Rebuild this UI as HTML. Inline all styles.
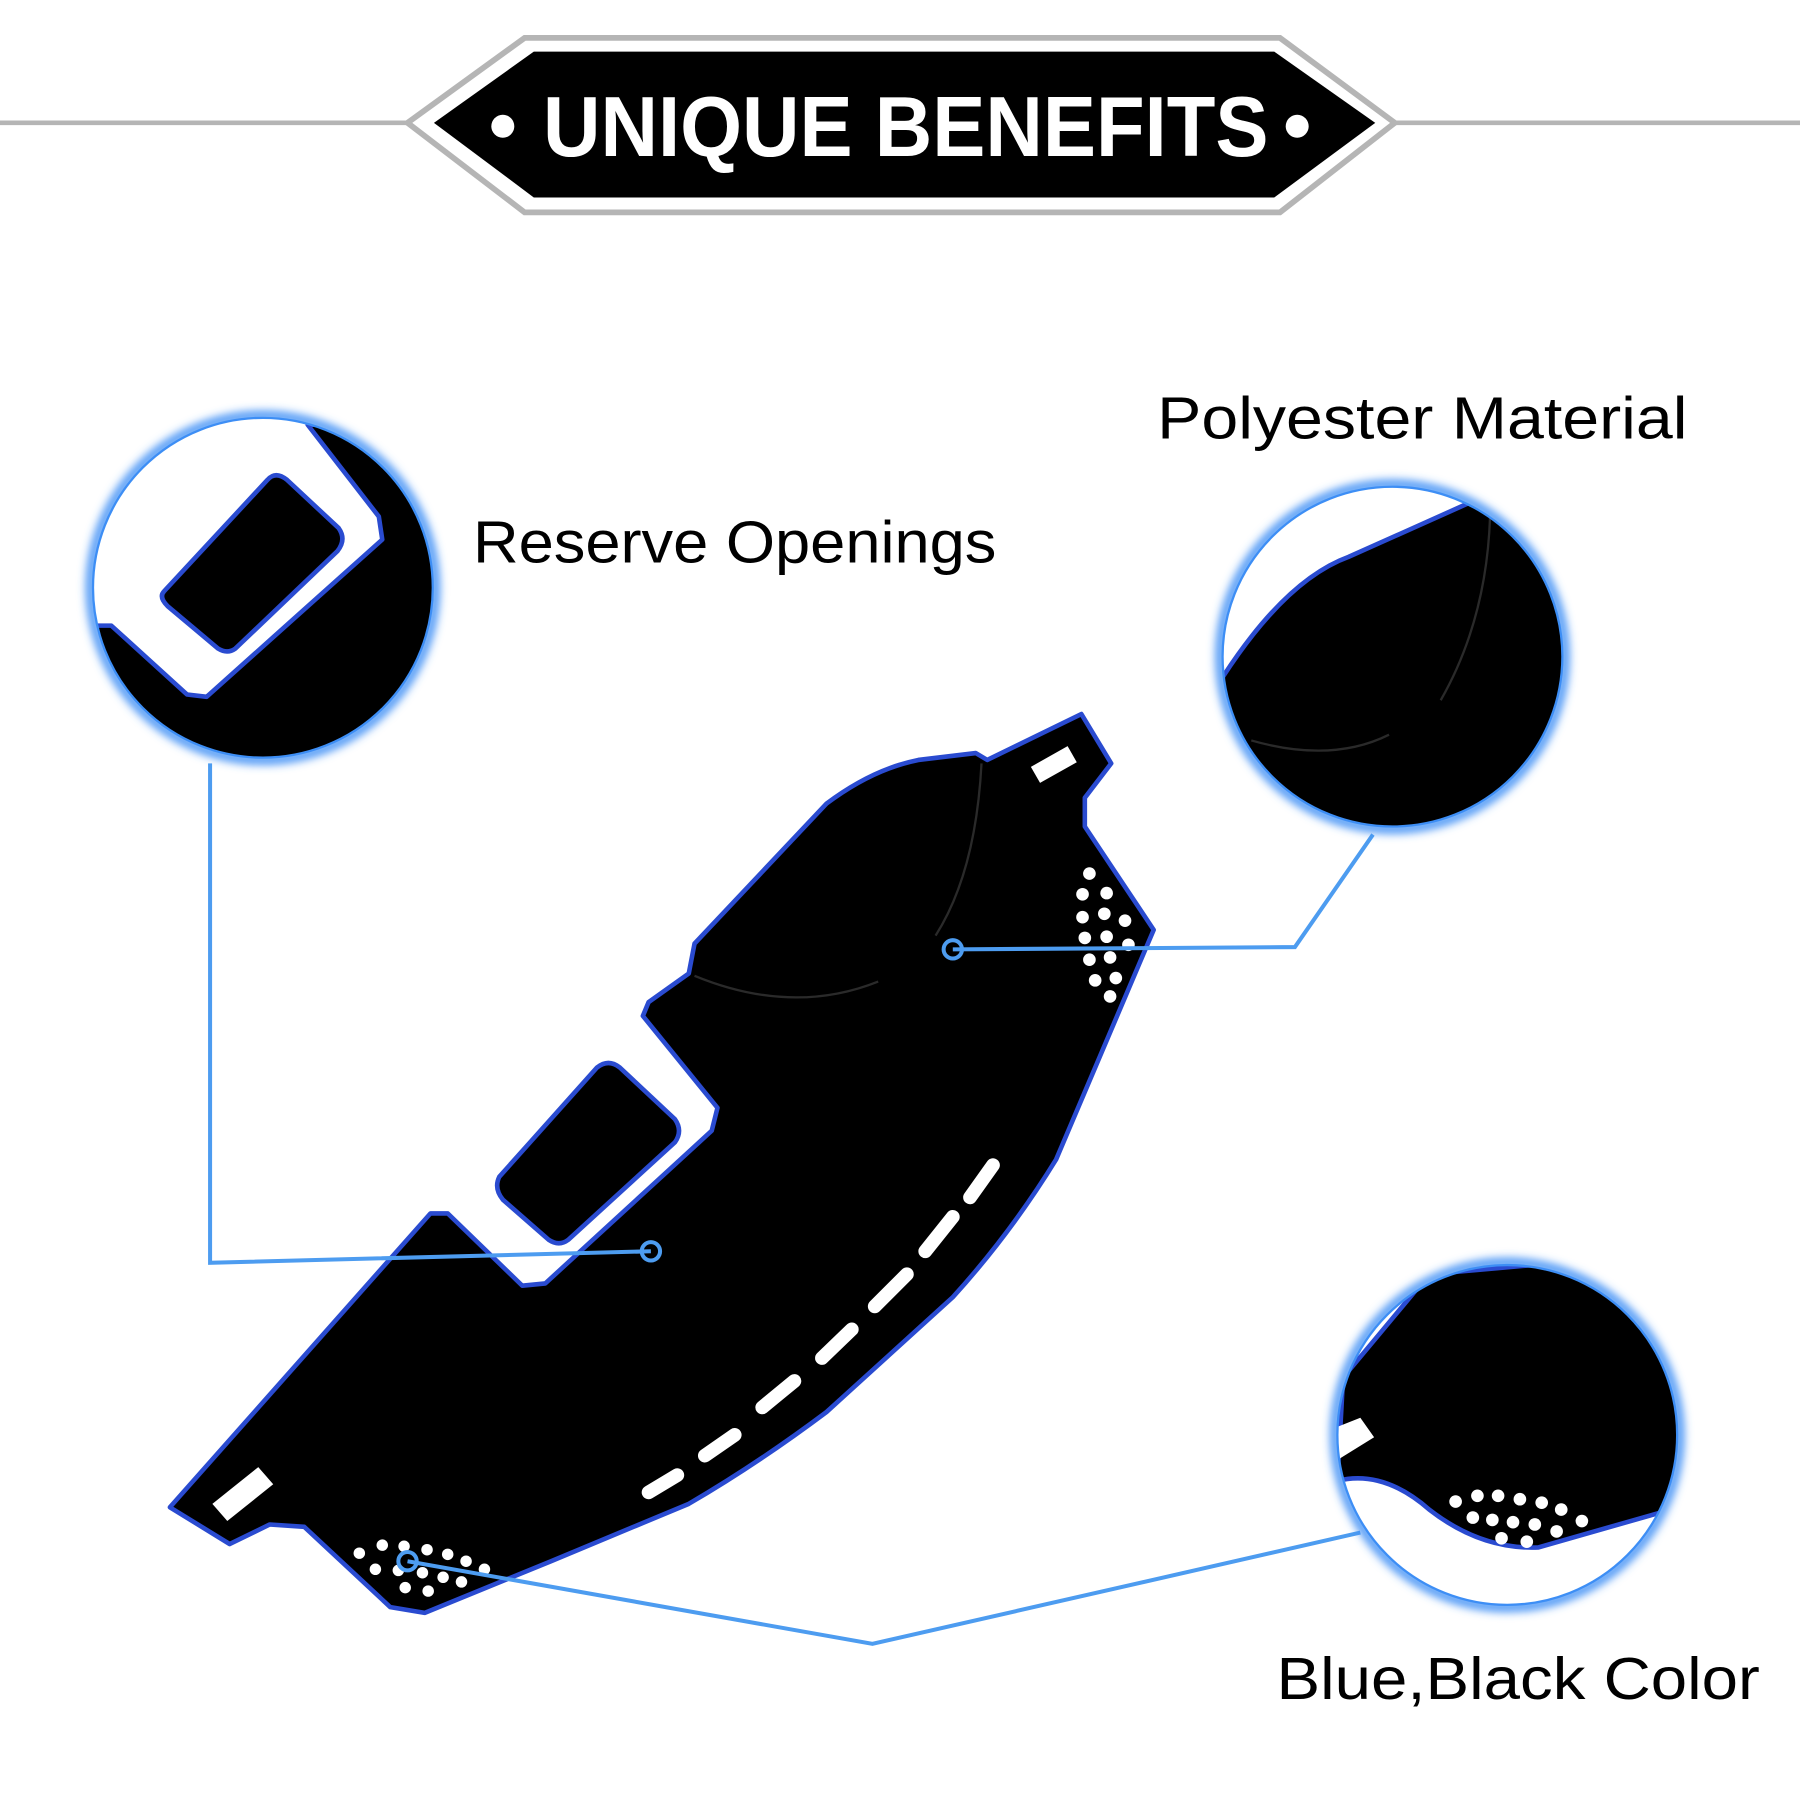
<!DOCTYPE html>
<html><head><style>html,body{margin:0;padding:0;background:#fff;width:1800px;height:1800px;overflow:hidden}svg{display:block}</style></head>
<body>
<svg width="1800" height="1800" viewBox="0 0 1568 1568" xmlns="http://www.w3.org/2000/svg">
<defs>
<filter id="glow" x="-20%" y="-20%" width="140%" height="140%"><feGaussianBlur stdDeviation="4"/></filter>
<clipPath id="c1"><circle cx="229" cy="512" r="148"/></clipPath>
<clipPath id="c2"><circle cx="1213" cy="572" r="148"/></clipPath>
<clipPath id="c3"><circle cx="1313" cy="1250" r="148"/></clipPath>
</defs>
<rect width="1568" height="1568" fill="#fff"/>
<line x1="0" y1="107" x2="355" y2="107" stroke="#b5b5b5" stroke-width="4"/>
<line x1="1215" y1="107" x2="1568" y2="107" stroke="#b5b5b5" stroke-width="4"/>
<polygon points="355,107 457,33 1115,33 1215,107 1115,185 457,185" fill="#fff" stroke="#b5b5b5" stroke-width="5"/>
<polygon points="378,107 465,45 1110,45 1198,107 1110,172 465,172" fill="#000"/>
<circle cx="438" cy="110" r="10" fill="#fff"/><circle cx="1130" cy="110" r="10" fill="#fff"/>
<text x="473" y="136" textLength="632" lengthAdjust="spacingAndGlyphs" fill="#fff" font-family="'Liberation Sans','Noto Sans CJK SC',sans-serif" font-weight="bold" font-size="74">UNIQUE BENEFITS</text>

<path d="M148,1313 L375,1057 L390,1057 L455,1120 L475,1118 L620,985 L625,965 L560,885 L565,873 L600,848 L605,822 L720,700 Q760,670 800,662 L850,656 L860,662 L942,622 L968,665 L945,695 L945,720 L1005,810 L920,1010 Q880,1075 830,1130 L720,1230 Q660,1275 600,1310 L480,1360 L370,1405 L340,1400 L265,1330 L235,1328 L200,1345 Z" fill="#000" stroke="#2a4bd0" stroke-width="4" stroke-linejoin="round"/>
<path d="M435,1025 L520,930 Q530,922 540,930 L588,975 Q595,985 588,995 L495,1080 Q487,1086 478,1080 L438,1045 Q430,1035 435,1025 Z" fill="#000" stroke="#2a4bd0" stroke-width="4"/>
<path d="M605,850 Q690,885 765,855 M855,665 Q850,760 815,815" fill="none" stroke="#2a2a2a" stroke-width="2"/>
<g stroke="#fff" stroke-width="12" stroke-linecap="round">
<line x1="565" y1="1300" x2="590" y2="1285"/><line x1="614" y1="1268" x2="640" y2="1250"/><line x1="664" y1="1226" x2="692" y2="1203"/><line x1="716" y1="1183" x2="742" y2="1158"/><line x1="762" y1="1138" x2="790" y2="1110"/><line x1="806" y1="1090" x2="830" y2="1060"/><line x1="845" y1="1043" x2="865" y2="1015"/>
</g>
<polygon points="898,668 930,650 938,664 906,682" fill="#fff"/>
<polygon points="185,1310 225,1278 238,1293 198,1325" fill="#fff"/>
<g fill="#fff">
<circle cx="949" cy="761" r="5.5"/><circle cx="943" cy="779" r="5.5"/><circle cx="964" cy="778" r="5.5"/><circle cx="943" cy="799" r="5.5"/><circle cx="962" cy="796" r="5.5"/><circle cx="980" cy="802" r="5.5"/><circle cx="945" cy="817" r="5.5"/><circle cx="964" cy="816" r="5.5"/><circle cx="983" cy="823" r="5.5"/><circle cx="949" cy="836" r="5.5"/><circle cx="967" cy="834" r="5.5"/><circle cx="954" cy="854" r="5.5"/><circle cx="972" cy="852" r="5.5"/><circle cx="967" cy="868" r="5.5"/>
<circle cx="313" cy="1353" r="5"/><circle cx="333" cy="1346" r="5"/><circle cx="352" cy="1347" r="5"/><circle cx="372" cy="1350" r="5"/><circle cx="390" cy="1354" r="5"/><circle cx="406" cy="1360" r="5"/><circle cx="422" cy="1367" r="5"/><circle cx="327" cy="1367" r="5"/><circle cx="347" cy="1368" r="5"/><circle cx="368" cy="1370" r="5"/><circle cx="386" cy="1374" r="5"/><circle cx="402" cy="1378" r="5"/><circle cx="353" cy="1383" r="5"/><circle cx="373" cy="1386" r="5"/>
</g>

<g stroke="#4d9cf0" stroke-width="3.5" fill="none">
<polyline points="183,665 183,1100 567,1090"/>
<polyline points="830,827 1128,825 1196,727"/>
<polyline points="355,1360 760,1432 1185,1335"/>
<circle cx="567" cy="1090" r="8"/><circle cx="830" cy="827" r="8"/><circle cx="355" cy="1360" r="8"/>
</g>

<circle cx="229" cy="512" r="150" fill="none" stroke="#3d8ef5" stroke-width="8" filter="url(#glow)"/>
<g clip-path="url(#c1)">
<rect x="70" y="350" width="330" height="330" fill="#fff"/>
<polygon points="268,370 330,450 333,470 180,607 163,605 97,545 78,545 78,700 400,700 400,370" fill="#000" stroke="#2a4bd0" stroke-width="4" stroke-linejoin="round"/>
<path d="M143,515 L233,418 Q240,410 250,418 L295,460 Q302,470 294,480 L205,565 Q198,570 190,565 L146,528 Q138,520 143,515 Z" fill="#000" stroke="#2a4bd0" stroke-width="4"/>
</g>
<circle cx="229" cy="512" r="148" fill="none" stroke="#3d8ef5" stroke-width="2"/>

<circle cx="1213" cy="572" r="150" fill="none" stroke="#3d8ef5" stroke-width="8" filter="url(#glow)"/>
<g clip-path="url(#c2)">
<rect x="1060" y="420" width="310" height="310" fill="#fff"/>
<path d="M1065,590 Q1120,505 1175,485 L1280,438 L1370,430 L1370,730 L1060,730 Z" fill="#000" stroke="#2a4bd0" stroke-width="4"/>
<path d="M1090,645 Q1160,665 1210,640 M1298,450 Q1295,540 1255,610" fill="none" stroke="#2a2a2a" stroke-width="2"/>
</g>
<circle cx="1213" cy="572" r="148" fill="none" stroke="#3d8ef5" stroke-width="2"/>

<circle cx="1313" cy="1250" r="150" fill="none" stroke="#3d8ef5" stroke-width="8" filter="url(#glow)"/>
<g clip-path="url(#c3)">
<rect x="1160" y="1098" width="310" height="310" fill="#fff"/>
<path d="M1245,1110 L1170,1200 L1165,1290 Q1205,1280 1245,1315 Q1290,1350 1340,1348 L1445,1318 L1470,1318 L1470,1090 Z" fill="#000" stroke="#2a4bd0" stroke-width="4"/>
<polygon points="1160,1245 1185,1235 1197,1252 1160,1275" fill="#fff"/>
<g fill="#fff">
<circle cx="1268" cy="1308" r="5.5"/><circle cx="1287" cy="1303" r="5.5"/><circle cx="1305" cy="1303" r="5.5"/><circle cx="1324" cy="1306" r="5.5"/><circle cx="1343" cy="1309" r="5.5"/><circle cx="1360" cy="1315" r="5.5"/><circle cx="1378" cy="1325" r="5.5"/><circle cx="1283" cy="1322" r="5.5"/><circle cx="1300" cy="1324" r="5.5"/><circle cx="1318" cy="1326" r="5.5"/><circle cx="1337" cy="1328" r="5.5"/><circle cx="1356" cy="1334" r="5.5"/><circle cx="1308" cy="1340" r="5.5"/><circle cx="1330" cy="1343" r="5.5"/>
</g>
</g>
<circle cx="1313" cy="1250" r="148" fill="none" stroke="#3d8ef5" stroke-width="2"/>

<g font-family="'Liberation Sans','Noto Sans CJK SC',sans-serif" font-size="52" fill="#000" lengthAdjust="spacingAndGlyphs">
<text x="412" y="490" textLength="456" lengthAdjust="spacingAndGlyphs">Reserve Openings</text>
<text x="1008" y="382" textLength="462" lengthAdjust="spacingAndGlyphs">Polyester Material</text>
<text x="1112" y="1480" textLength="421" lengthAdjust="spacingAndGlyphs">Blue,Black Color</text>
</g>
</svg>
</body></html>
